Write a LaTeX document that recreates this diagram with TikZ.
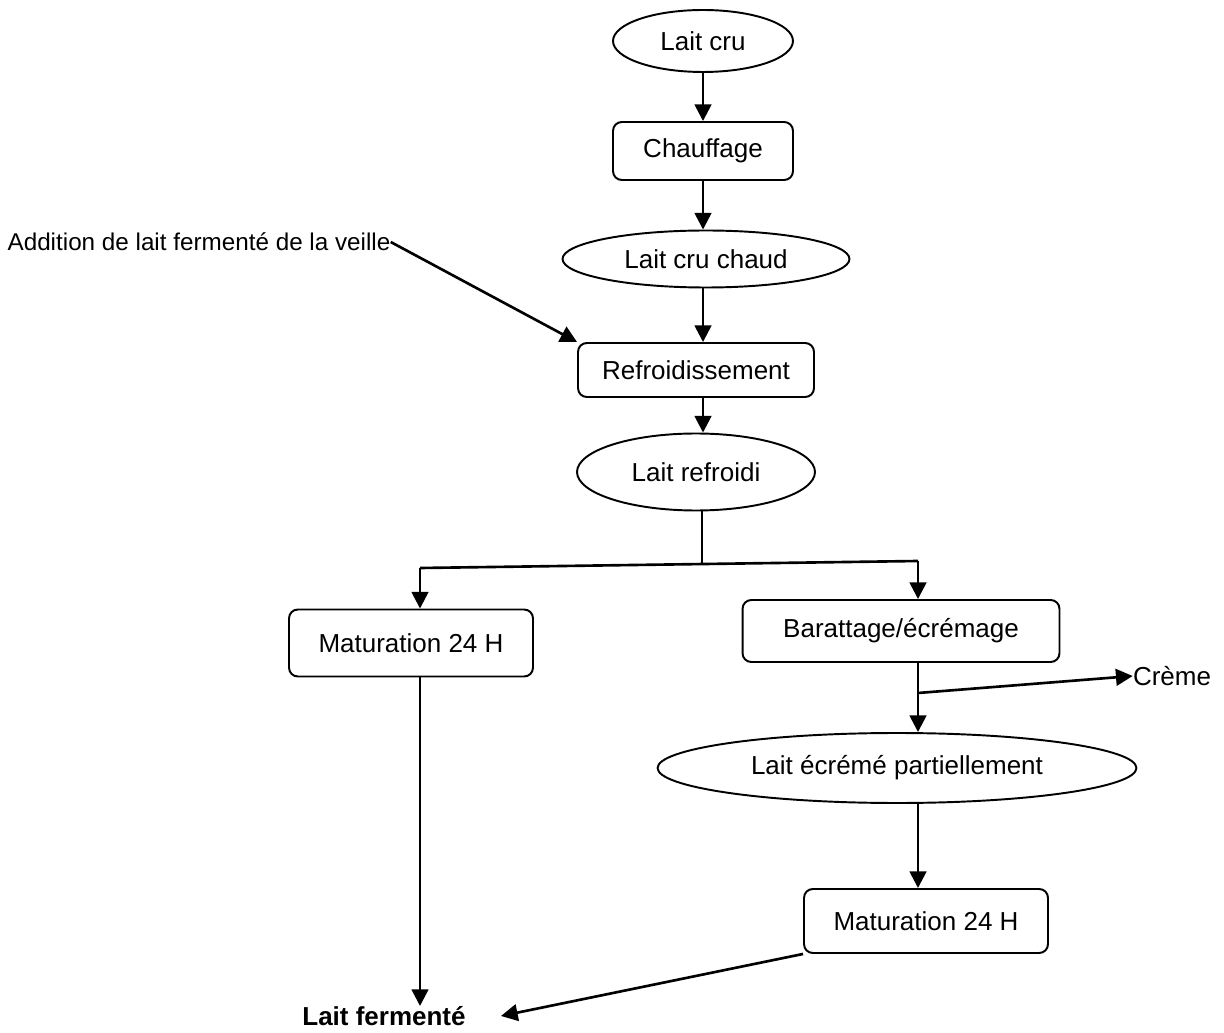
\documentclass[tikz,border=0pt]{standalone}
\usepackage{fontspec}
\setmainfont{Liberation Sans}
\usetikzlibrary{shapes.geometric,arrows.meta}

\begin{document}
\begin{tikzpicture}[x=0.02cm,y=-0.02cm,
  font=\fontsize{14.8}{17}\selectfont,
  etat/.style={ellipse,draw,line width=1.1pt,inner sep=0pt},
  etape/.style={rectangle,draw,rounded corners=5pt,line width=1.1pt,inner sep=0pt},
  fleche/.style={line width=1.5pt,-{Triangle[length=9.5pt,width=9.5pt]}}]
 \useasboundingbox (0,0) rectangle (1224,1033);
 \node[etat,minimum width=3.6cm,minimum height=1.24cm] (laitcru) at (703,41) {Lait cru};
 \node[etape,minimum width=3.6cm,minimum height=1.16cm] (chauffage) at (703,151) {Chauffage};
 \node[etat,minimum width=5.74cm,minimum height=1.14cm] (laitchaud) at (706,259) {Lait cru chaud};
 \node[etape,minimum width=4.72cm,minimum height=1.08cm] (refroid) at (696,370) {Refroidissement};
 \node[etat,minimum width=4.76cm,minimum height=1.54cm] (laitrefroidi) at (696,472) {Lait refroidi};
 \node[etape,minimum width=4.88cm,minimum height=1.34cm] (matA) at (411,643) {Maturation 24 H};
 \node[etape,minimum width=6.34cm,minimum height=1.24cm] (baratage) at (901,631) {Barattage/écrémage};
 \node[etat,minimum width=9.58cm,minimum height=1.4cm] (ecreme) at (897,768) {Lait écrémé partiellement};
 \node[etape,minimum width=4.88cm,minimum height=1.28cm] (matB) at (926,921) {Maturation 24 H};
 \node[inner sep=0pt,font=\fontsize{13.8}{16}\selectfont] (addition) at (199,242) {Addition de lait fermenté de la veille};
 \node[inner sep=0pt] (creme) at (1172,676) {Crème};
 \node[inner sep=0pt,font=\fontsize{14.8}{17}\selectfont\bfseries] (fermente) at (384,1016) {Lait fermenté};
 \coordinate (axe) at (703,0);
 \coordinate (split) at (702,563);
 \coordinate (gauche) at (420,568);
 \coordinate (droite) at (918,561);
 \coordinate (creme1) at (918,693);
 \draw[fleche] (laitcru) -- (chauffage);
 \draw[fleche] (chauffage.south) -- (laitchaud.north -| axe);
 \draw[fleche] (laitchaud.south -| axe) -- (refroid.north -| axe);
 \draw[fleche] (refroid.south -| axe) -- (laitrefroidi.north -| axe);
 \draw[fleche] (addition.east) -- (refroid.north west);
 \draw[line width=0.8pt] (laitrefroidi.south -| split) -- (split);
 \draw[line width=1.5pt] (gauche) -- (droite);
 \draw[fleche] (gauche) -- (gauche |- matA.north);
 \draw[fleche] (droite) -- (droite |- baratage.north);
 \draw[fleche] (matA.south -| gauche) -- (gauche |- fermente.north);
 \draw[fleche] (baratage.south -| droite) -- (ecreme.north -| droite);
 \draw[fleche] (creme1) -- (creme.west);
 \draw[fleche] (ecreme.south -| droite) -- (matB.north -| droite);
 \draw[fleche] (matB.south west) -- ([xshift=0.7cm]fermente.east);
\end{tikzpicture}
\end{document}
